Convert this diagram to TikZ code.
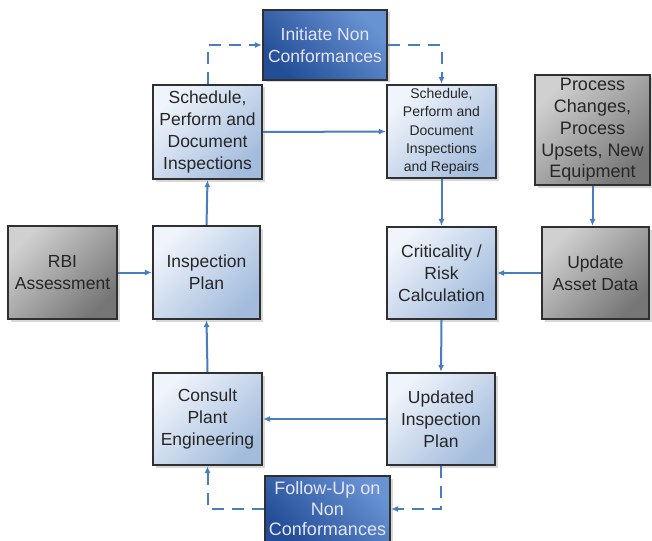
\documentclass[tikz,border=0pt]{standalone}
\usepackage{fontspec}
\setmainfont{Liberation Sans}
\usetikzlibrary{arrows.meta,shadows,positioning}
\definecolor{lbA}{HTML}{F0F4FB}
\definecolor{lbB}{HTML}{A3BCDD}
\definecolor{gyA}{HTML}{D0D0D0}
\definecolor{gyB}{HTML}{767676}
\definecolor{dbA}{HTML}{6893D3}
\definecolor{dbB}{HTML}{234D96}
\definecolor{edge}{HTML}{303030}
\definecolor{conn}{HTML}{4A7CC0}
\tikzset{
  box/.style={rectangle, draw=edge, line width=2.2pt, align=center, inner sep=0pt,
    font=\fontsize{17.5}{22}\selectfont, text=black!85,
    drop shadow={shadow xshift=2.5pt, shadow yshift=-2.5pt, opacity=0.3}},
  lb/.style={box, shading=axis, top color=lbA, bottom color=lbB, shading angle=45},
  gy/.style={box, shading=axis, top color=gyA, bottom color=gyB, shading angle=45},
  db/.style={box, shading=axis, top color=dbA, bottom color=dbB, shading angle=-45, text=white!90!blue},
  arr/.style={draw=conn, line width=2pt, -{Latex[length=7pt,width=6pt]}},
  darr/.style={arr, dash pattern=on 12pt off 8pt}
}
\begin{document}
\begin{tikzpicture}[x=1pt,y=-1pt]
\clip (0,0) rectangle (652,540);
\fill[white] (0,0) rectangle (652,540);
\node[db, minimum width=124pt, minimum height=70pt] (init) at (325,45) {Initiate Non\\Conformances};
\node[lb, minimum width=109pt, minimum height=94pt] (sl) at (207.5,132) {Schedule,\\Perform and\\Document\\Inspections};
\node[lb, minimum width=109pt, minimum height=93pt, font=\fontsize{14}{18.3}\selectfont] (sr) at (441.5,131.5) {Schedule,\\Perform and\\Document\\Inspections\\and Repairs};
\node[gy, minimum width=115pt, minimum height=110pt, font=\fontsize{18}{21.7}\selectfont] (proc) at (592.5,130) {Process\\Changes,\\Process\\Upsets, New\\Equipment};
\node[lb, minimum width=109pt, minimum height=92pt] (crit) at (441.5,273) {Criticality /\\Risk\\Calculation};
\node[gy, minimum width=107pt, minimum height=92pt] (upd) at (595.5,273) {Update\\Asset Data};
\node[gy, minimum width=109pt, minimum height=93pt] (rbi) at (62.5,272.5) {RBI\\Assessment};
\node[lb, minimum width=107pt, minimum height=93pt] (ip) at (206.5,272.5) {Inspection\\Plan};
\node[lb, minimum width=109pt, minimum height=92pt] (cons) at (207.5,419) {Consult\\Plant\\Engineering};
\node[lb, minimum width=108pt, minimum height=92pt] (updp) at (441,419) {Updated\\Inspection\\Plan};
\node[db, minimum width=125pt, minimum height=66pt, font=\fontsize{18}{20.5}\selectfont] (fu) at (327.5,509) {Follow-Up on\\Non\\Conformances};
\draw[darr] (sl.north) |- (init.west);
\draw[darr] (init.east) -| (sr.north);
\draw[arr] (sl.east) -- (sr.west);
\draw[arr] (sr.south) -- (crit.north);
\draw[arr] (proc.south) -- (proc.south |- upd.north);
\draw[arr] (upd.west) -- (crit.east);
\draw[arr] (crit.south) -- (updp.north);
\draw[arr] (updp.west) -- (cons.east);
\draw[darr] (updp.south) |- (fu.east);
\draw[darr] (fu.west) -| (cons.south);
\draw[arr] (cons.north) -- (ip.south);
\draw[arr] (ip.north) -- (sl.south);
\draw[arr] (rbi.east) -- (ip.west);
\end{tikzpicture}
\end{document}
